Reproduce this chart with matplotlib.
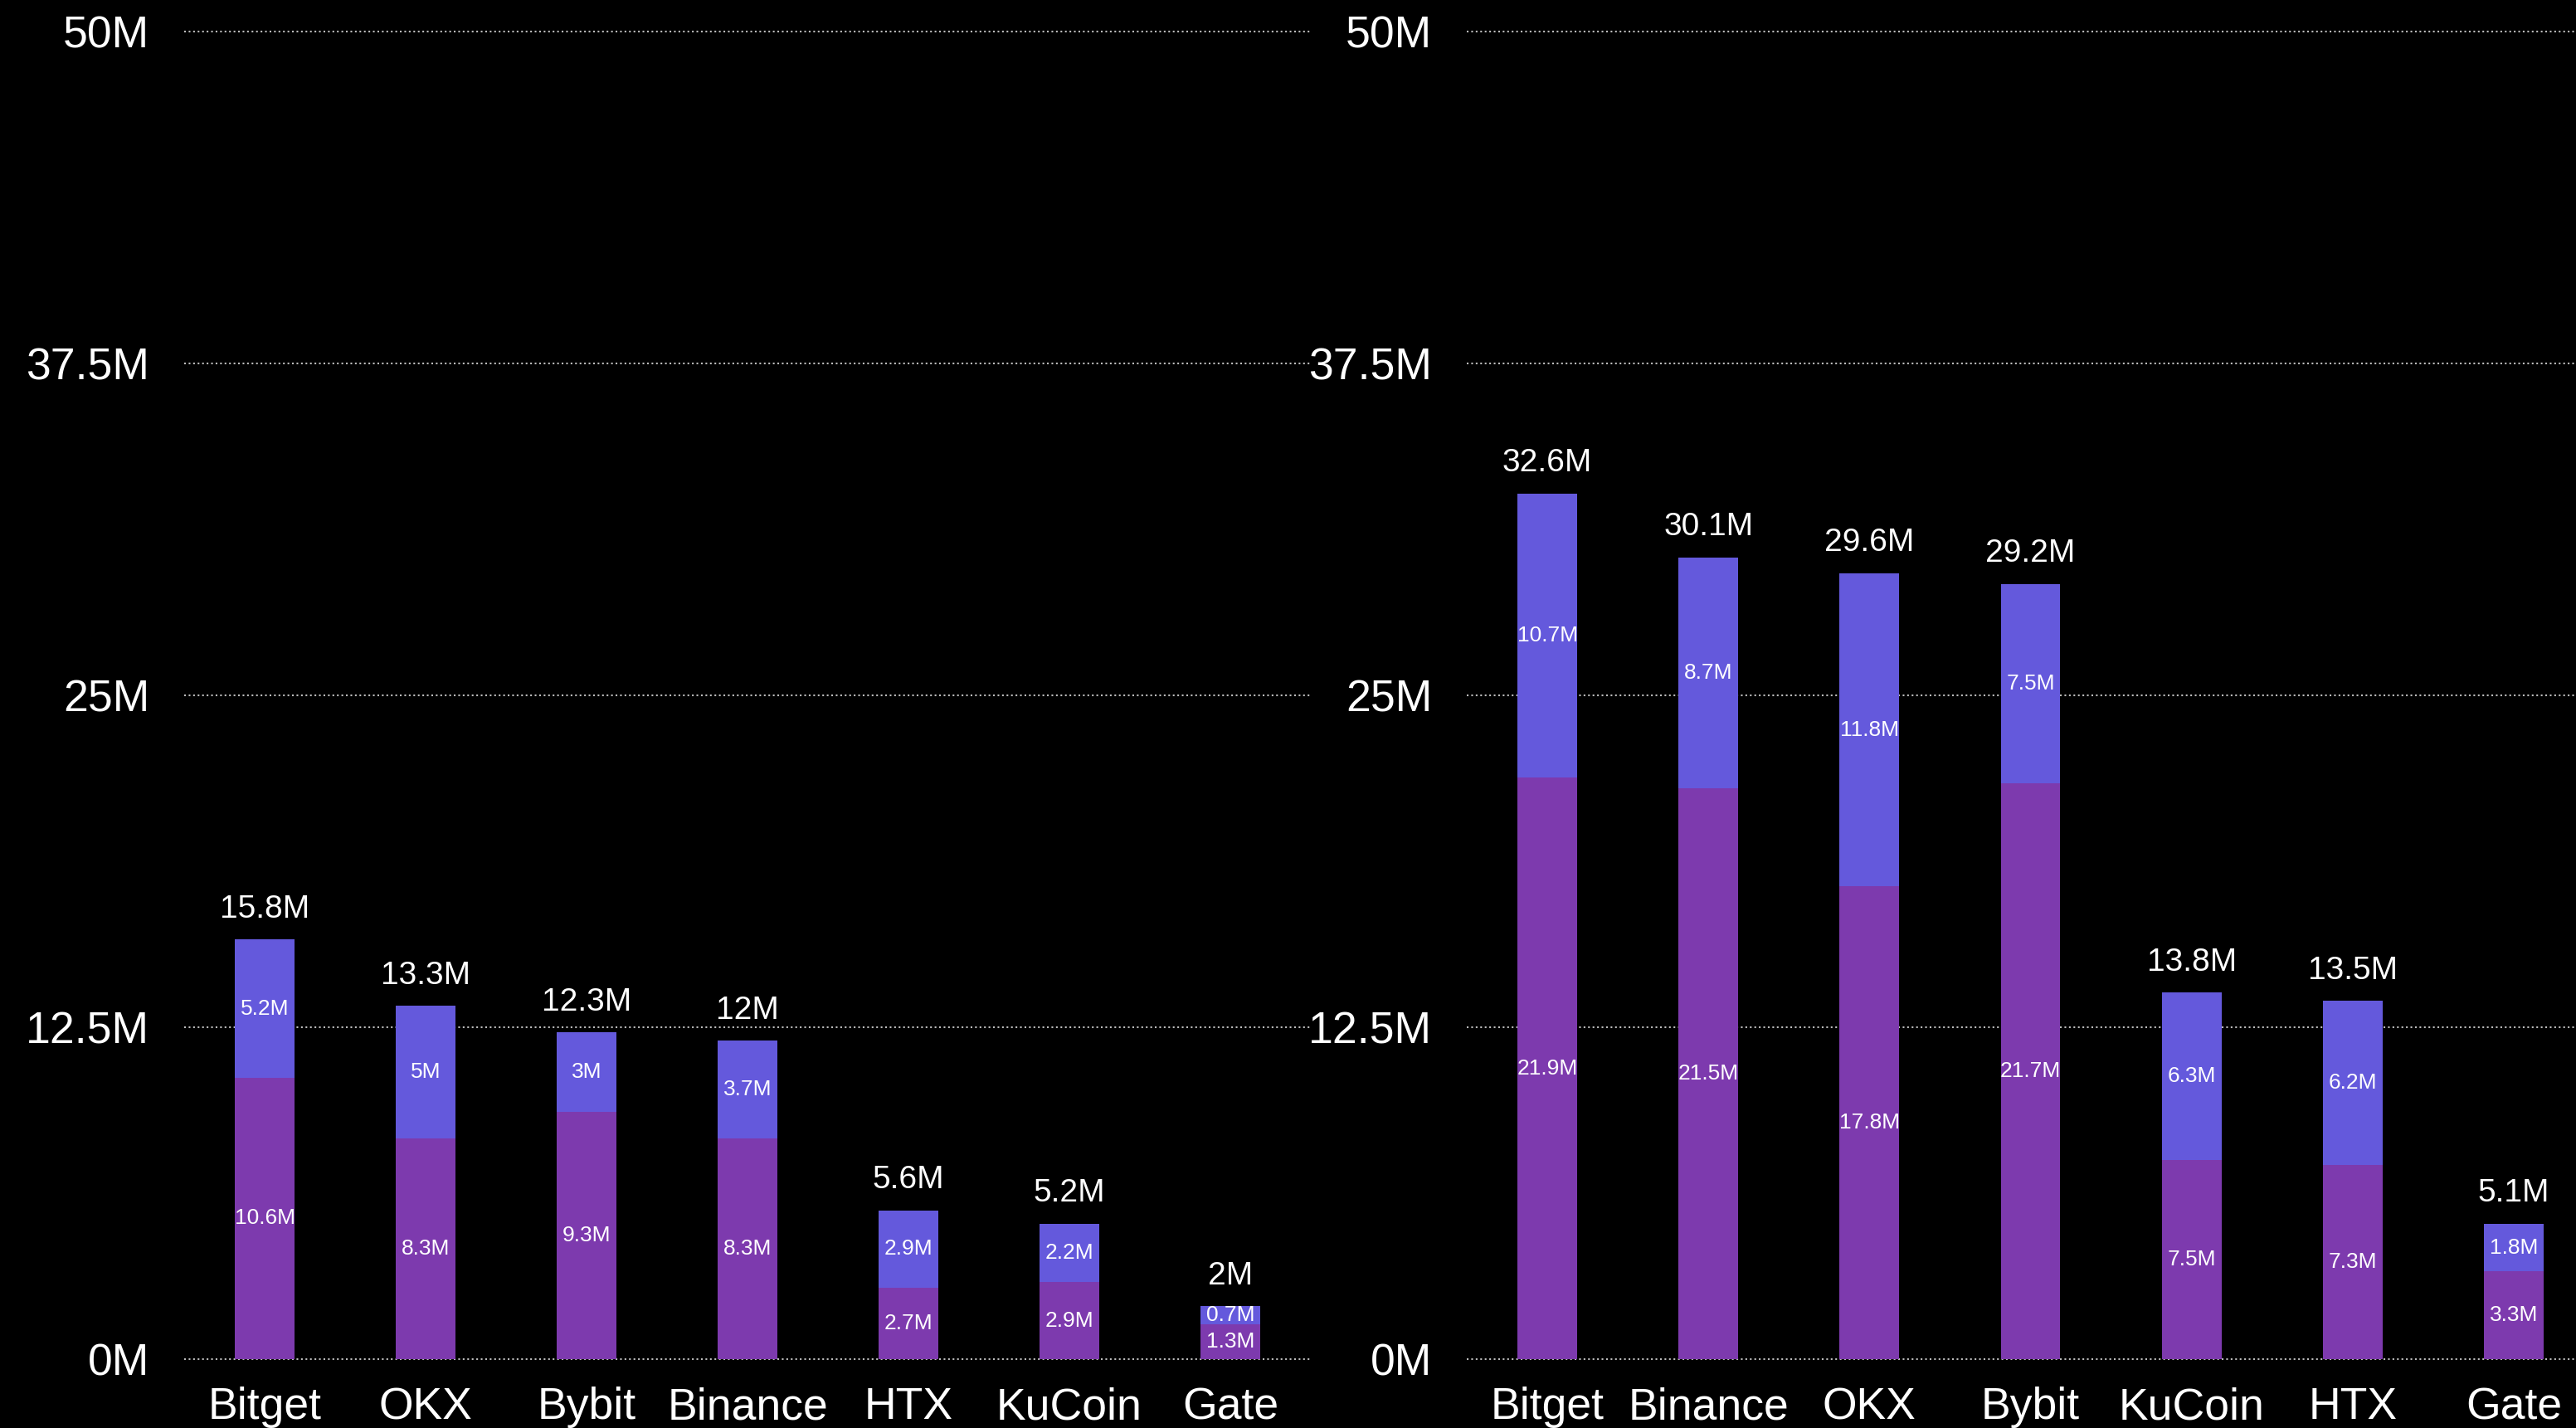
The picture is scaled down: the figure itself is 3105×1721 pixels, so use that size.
import numpy as np
import matplotlib.pyplot as plt

plt.rcParams['font.family'] = ['Liberation Sans', 'DejaVu Sans']

# left panel
left_names = ['Bitget', 'OKX', 'Bybit', 'Binance', 'HTX', 'KuCoin', 'Gate']
left_bottom = [10.6, 8.3, 9.3, 8.3, 2.7, 2.9, 1.3]
left_top = [5.2, 5.0, 3.0, 3.7, 2.9, 2.2, 0.7]
left_total = [15.8, 13.3, 12.3, 12.0, 5.6, 5.2, 2.0]

# right panel
right_names = ['Bitget', 'Binance', 'OKX', 'Bybit', 'KuCoin', 'HTX', 'Gate']
right_bottom = [21.9, 21.5, 17.8, 21.7, 7.5, 7.3, 3.3]
right_top = [10.7, 8.7, 11.8, 7.5, 6.3, 6.2, 1.8]
right_total = [32.6, 30.1, 29.6, 29.2, 13.8, 13.5, 5.1]

yticks = [0, 12.5, 25, 37.5, 50]
ytick_labels = ['0M', '12.5M', '25M', '37.5M', '50M']

c_bottom = '#7d3aae'
c_top = '#6459dc'

W, H = 3105, 1721
fig = plt.figure(figsize=(W / 100, H / 100), dpi=100, facecolor='black')

bot = (H - 1638) / H
hgt = 1600 / H
ax1 = fig.add_axes([222 / W, bot, (1580 - 222) / W, hgt])
ax2 = fig.add_axes([1768 / W, bot, (3127 - 1768) / W, hgt])


def fmt(v):
    s = ('%.1f' % v).rstrip('0').rstrip('.')
    return s + 'M'


def draw(ax, names, b, t, tot):
    x = np.arange(len(names))
    ax.set_facecolor('black')
    ax.bar(x, b, width=0.37, color=c_bottom, zorder=2)
    ax.bar(x, t, width=0.37, bottom=b, color=c_top, zorder=2)
    for i in range(len(names)):
        ax.text(x[i], b[i] / 2, fmt(b[i]), ha='center', va='center',
                color='white', fontsize=19, zorder=3)
        ax.text(x[i], b[i] + t[i] / 2, fmt(t[i]), ha='center', va='center',
                color='white', fontsize=19, zorder=3)
        ax.annotate(fmt(tot[i]), (x[i], b[i] + t[i]), xytext=(0, 19),
                    textcoords='offset points', ha='center', va='baseline',
                    color='white', fontsize=28)
    ax.set_xlim(-0.5, len(names) - 0.5)
    ax.set_ylim(0, 50)
    ax.set_xticks(x)
    ax.set_xticklabels(names)
    ax.set_yticks(yticks)
    ax.set_yticklabels(ytick_labels)
    ax.tick_params(axis='both', length=0, colors='white', labelsize=38.5)
    ax.tick_params(axis='x', pad=24)
    ax.tick_params(axis='y', pad=30)
    for s in ax.spines.values():
        s.set_visible(False)
    ax.set_axisbelow(True)
    ax.yaxis.grid(True, color='#bbbbbb', linestyle=(0, (1, 1.6)), linewidth=1.5)
    ax.xaxis.grid(False)
    for gl in ax.get_ygridlines():
        gl.set_clip_on(False)


draw(ax1, left_names, left_bottom, left_top, left_total)
draw(ax2, right_names, right_bottom, right_top, right_total)

fig.savefig('out.png', dpi=100, facecolor='black')
